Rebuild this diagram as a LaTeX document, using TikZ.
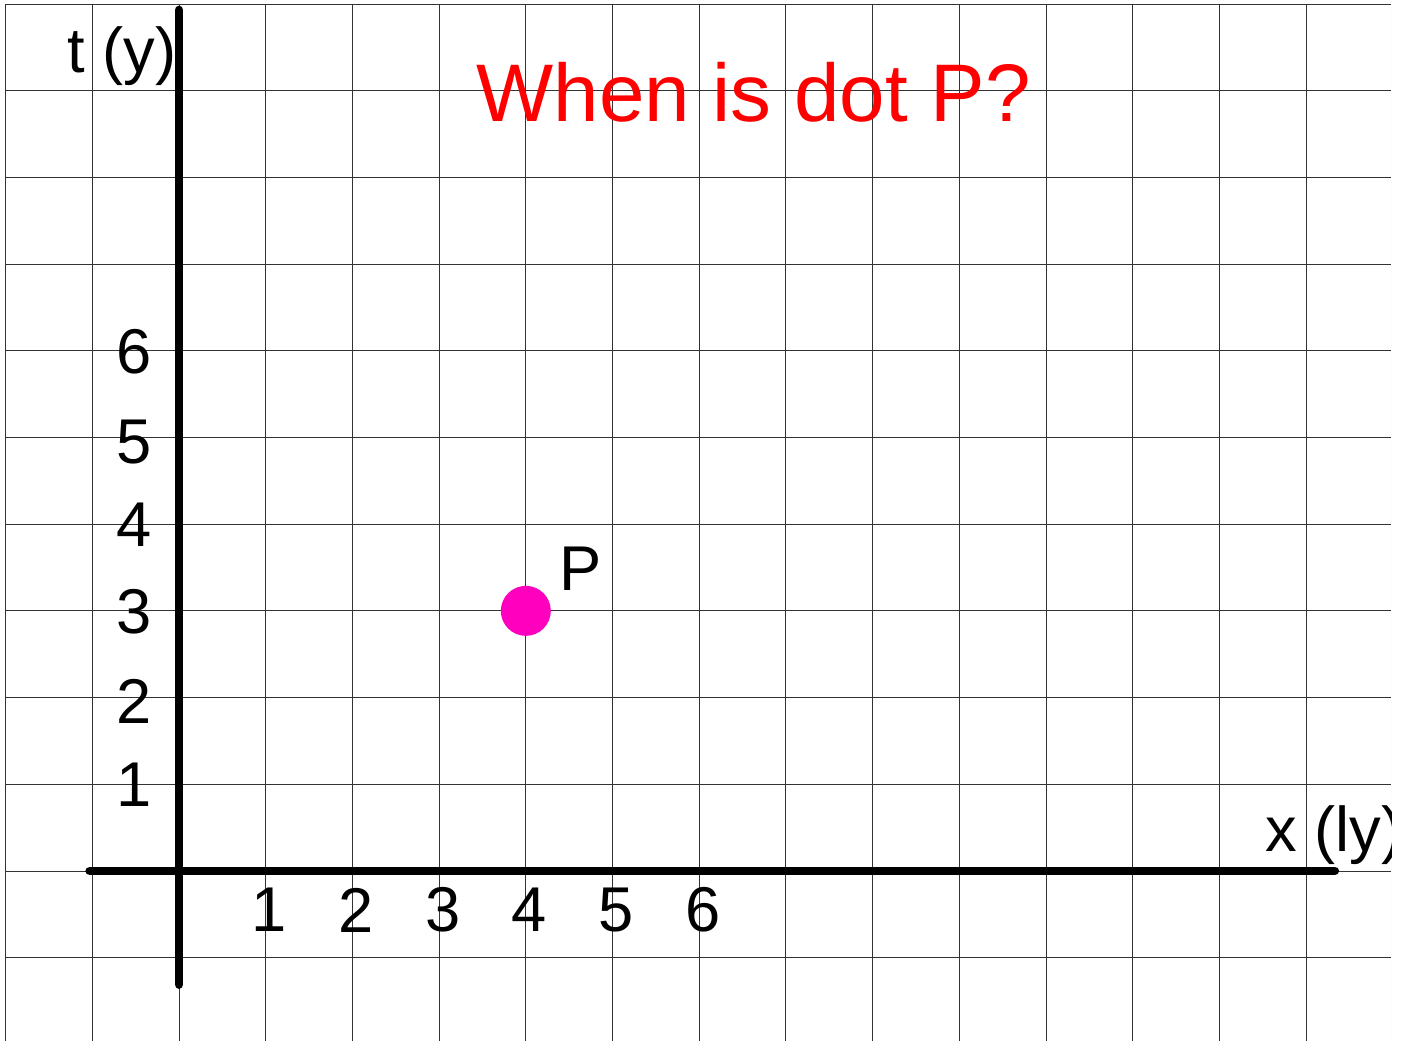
\documentclass[tikz,border=0pt]{standalone}
\usepackage{fontspec}
\setmainfont{Liberation Sans}
\usetikzlibrary{positioning}
\definecolor{dotpink}{RGB}{255,0,190}
\tikzset{
  axis/.style={line width=5pt, line cap=round},
  bigtext/.style={font=\fontsize{36}{40}\selectfont, inner sep=0pt},
}

\begin{document}
\begin{tikzpicture}[x=1.734cm, y=1.734cm]
    \useasboundingbox (-2.065,-1.961) rectangle (14.129,10.046);
    \begin{scope}
      \clip (-2.065,-1.961) rectangle (13.98,10.046);
      \draw[black!80, line width=0.5pt, step=1.734cm] (-2,-2.5) grid (13.98,10);
      \draw[black!10, line width=0.5pt] (13.98,-2.5) -- (13.98,10);
      % axes
      \coordinate (ytop) at (0,9.93);
      \coordinate (ybot) at (0,-1.31);
      \coordinate (xleft) at (-1.03,0);
      \coordinate (xright) at (13.33,0);
      \draw[axis] (ybot) -- (ytop);
      \draw[axis] (xleft) -- (xright);
      \node (xname) [bigtext, anchor=base west] at (12.53,0.22) {x (ly)};
    \end{scope}
    \node (yname) [bigtext, anchor=base west] at (-1.29,9.21) {t (y)};
    \foreach \i in {1,...,6}
      \node (xl\i) [bigtext] at (\i+0.04,-0.45) {\i};
    \foreach \i/\yy in {1/0.99,2/1.95,3/2.99,4/3.99,5/4.95,6/5.99}
      \node (yl\i) [bigtext] at (-0.52,\yy) {\i};
    \node (title) [font=\fontsize{46.5}{52}\selectfont, text=red, inner sep=0pt, anchor=base west] at (3.43,8.64) {When is dot P?};
    % the dot
    \node (P) [circle, fill=dotpink, inner sep=0pt, minimum size=1cm] at (4,3) {};
    \node (Plabel) [bigtext, anchor=base west] at (4.39,3.24) {P};
\end{tikzpicture}
\end{document}
